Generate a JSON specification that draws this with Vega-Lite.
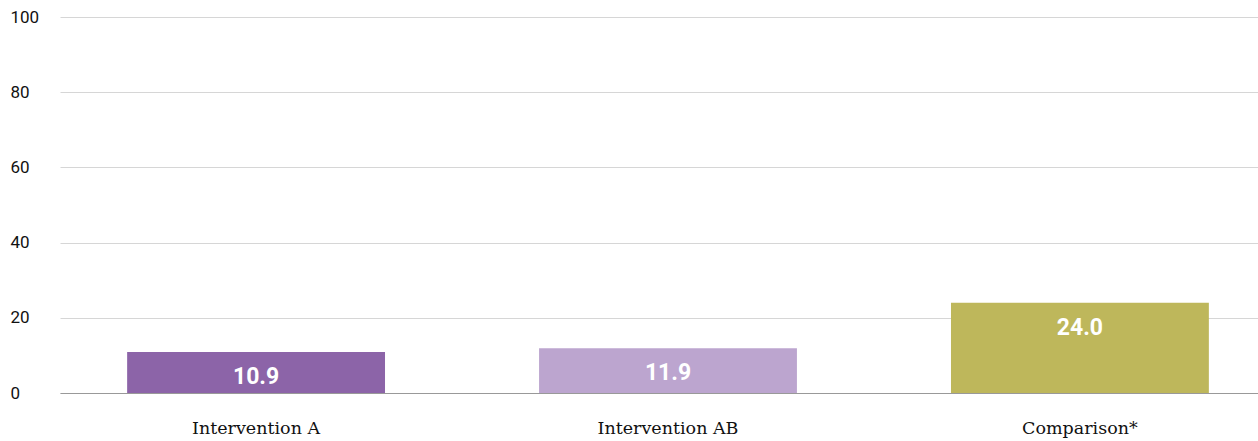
{
  "$schema": "https://vega.github.io/schema/vega-lite/v6.json",
  "width": 1198,
  "height": 376,
  "autosize": {"type": "none"},
  "padding": {"left": 60, "top": 17, "right": 0, "bottom": 48},
  "background": "white",
  "config": {"view": {"stroke": null}},
  "data": {
    "values": [
      {"group": "Intervention A", "value": 10.9},
      {"group": "Intervention AB", "value": 11.9},
      {"group": "Comparison*", "value": 24.0}
    ]
  },
  "encoding": {
    "x": {
      "field": "group",
      "type": "nominal",
      "sort": null,
      "title": null,
      "scale": {"range": [0, 1216], "paddingInner": 0.374, "paddingOuter": 0.163},
      "axis": {
        "labelAngle": 0,
        "labelFont": "DejaVu Serif",
        "labelFontSize": 17.5,
        "labelColor": "#111111",
        "labelPadding": 26,
        "ticks": false,
        "domain": true,
        "domainColor": "#999999",
        "domainWidth": 1,
        "grid": false
      }
    },
    "y": {
      "field": "value",
      "type": "quantitative",
      "title": null,
      "scale": {"domain": [0, 100], "nice": false},
      "axis": {
        "values": [0, 20, 40, 60, 80, 100],
        "labelAlign": "left",
        "labelPadding": 50,
        "labelFont": "Roboto",
        "labelFontSize": 17,
        "labelColor": "#111111",
        "ticks": false,
        "domain": false,
        "grid": true,
        "gridColor": "#d6d6d6",
        "gridWidth": 1
      }
    }
  },
  "layer": [
    {
      "mark": {"type": "bar"},
      "encoding": {
        "color": {
          "field": "group",
          "type": "nominal",
          "legend": null,
          "scale": {
            "domain": ["Intervention A", "Intervention AB", "Comparison*"],
            "range": ["#8c64a8", "#bca5cf", "#beb75b"]
          }
        }
      }
    },
    {
      "mark": {
        "type": "text",
        "baseline": "middle",
        "align": "center",
        "dy": 25,
        "font": "Roboto",
        "fontWeight": "bold",
        "fontSize": 23,
        "color": "white"
      },
      "encoding": {
        "text": {"field": "value", "type": "quantitative", "format": ".1f"}
      }
    }
  ]
}
